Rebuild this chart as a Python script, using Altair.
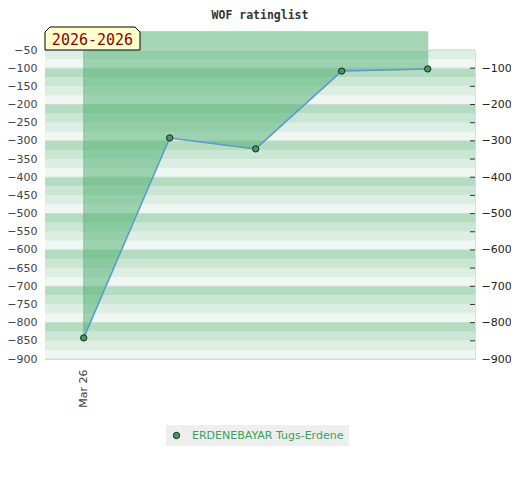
import altair as alt
import pandas as pd

# ---- data ----
dates = ["Mar 26", "", "", "", ""]
idx = [0, 1, 2, 3, 4]
ratings = [-842, -292, -322, -108, -102]
player = "ERDENEBAYAR Tugs-Erdene"
period = "2026-2026"
title_text = "WOF ratinglist"
left_ticks = list(range(-50, -901, -50))
right_ticks = list(range(-100, -901, -100))
minor_ticks = list(range(-100, -851, -50))
Y_DOMAIN = [-900, -50]
X_DOMAIN = [-0.45, 4.55]

df = pd.DataFrame({"i": idx, "label": dates, "rating": ratings, "player": [player] * len(idx)})

shade_colors = ["#b3dcc0", "#c9e7d3", "#ddefe3", "#eff7f2"]
stripe_rows = []
for lo in range(Y_DOMAIN[0], Y_DOMAIN[1], 25):
    hi = lo + 25
    stripe_rows.append({"lo": lo, "hi": hi, "fill": shade_colors[((-hi) % 100) // 25]})
stripes_df = pd.DataFrame(stripe_rows)

W, H = 430, 309
xs = alt.Scale(domain=X_DOMAIN, nice=False, zero=False)
ys = alt.Scale(domain=Y_DOMAIN, nice=False, zero=False)

label_expr = "[" + ",".join("'" + d + "'" for d in dates) + "][datum.value]"
x_axis = alt.Axis(
    values=idx, labelExpr=label_expr, labelAngle=-90, ticks=False, grid=False, title=None,
    labelColor="#444444", labelFontSize=11, labelFont="DejaVu Sans",
    domainColor="#dddddd", labelPadding=10, labelOverlap=False, labelFlush=False)
X = alt.X("i:Q", scale=xs, axis=x_axis)

stripes = alt.Chart(stripes_df).mark_rect().encode(
    x=alt.value(0), x2=alt.value(W),
    y=alt.Y("lo:Q", scale=ys, axis=alt.Axis(
        orient="left", values=left_ticks, ticks=False, grid=False, title=None,
        labelColor="#444444", labelFontSize=11, labelFont="DejaVu Sans",
        domainColor="#dddddd", labelPadding=8)),
    y2="hi:Q",
    fill=alt.Fill("fill:N", scale=None),
)

grid = alt.Chart(pd.DataFrame({"v": right_ticks})).mark_rule(color="#d0d8d3", strokeWidth=1).encode(
    y=alt.Y("v:Q", scale=ys, axis=alt.Axis(
        orient="right", values=right_ticks, ticks=False, grid=False, title=None,
        labelColor="#222222", labelFontSize=11, labelFont="DejaVu Sans",
        domainColor="#dddddd", labelPadding=6)),
    x=alt.value(0), x2=alt.value(W),
)

tickmarks = alt.Chart(pd.DataFrame({"v": minor_ticks})).mark_rule(color="#333333", strokeWidth=1).encode(
    y=alt.Y("v:Q", scale=ys, axis=None),
    x=alt.value(W - 5), x2=alt.value(W),
)

area = alt.Chart(df).mark_area(
    color="#4caf6e", opacity=0.5, stroke="#3aa05a", strokeWidth=1, strokeOpacity=1, clip=False
).encode(
    x=X,
    y=alt.Y("rating:Q", scale=ys, axis=None),
    y2=alt.datum(0),
)

border = alt.Chart(pd.DataFrame({"v": [Y_DOMAIN[1]]})).mark_rule(color="#cccccc", strokeWidth=1).encode(
    y=alt.Y("v:Q", scale=ys, axis=None),
    x=alt.value(0), x2=alt.value(W),
)

line = alt.Chart(df).mark_line(color="#5b9bd5", strokeWidth=1.5).encode(
    x=X,
    y=alt.Y("rating:Q", scale=ys, axis=None),
)

points = alt.Chart(df).mark_point(filled=True, size=40, stroke="#222222", strokeWidth=1, opacity=1).encode(
    x=X,
    y=alt.Y("rating:Q", scale=ys, axis=None),
    color=alt.Color("player:N", scale=alt.Scale(range=["#3aa05a"]), legend=alt.Legend(
        orient="none", legendX=121, legendY=375, title=None,
        fillColor="#eeeeee", padding=5, labelColor="#3aa05a", labelFontSize=11,
        labelFont="DejaVu Sans", labelLimit=400, labelOffset=10,
        symbolType="circle", symbolSize=40,
        symbolStrokeColor="#222222", symbolStrokeWidth=1, symbolFillColor="#3aa05a")),
)

tag_df = pd.DataFrame({"t": [period]})
hw = 47.5
hh = 11.5 / hw
ch = 5 / hw
shape = (f"M -1 {hh} L -1 {-hh + ch} L {-1 + ch} {-hh} L {1 - ch} {-hh} "
         f"L 1 {-hh + ch} L 1 {hh} Z")
tag_box = alt.Chart(tag_df).mark_point(
    shape=shape, filled=True, fill="#ffffcc", stroke="#000000", strokeWidth=1,
    size=(2 * hw) ** 2, opacity=1, clip=False
).encode(x=alt.value(hw), y=alt.value(-11.5))
tag_text = alt.Chart(tag_df).mark_text(
    font="DejaVu Sans Mono", fontSize=15, color="#8b0000", align="center", baseline="middle", clip=False
).encode(x=alt.value(hw), y=alt.value(-10.5), text="t:N")

chart = alt.layer(
    stripes, grid, area, border, tickmarks, line, points, tag_box, tag_text
).resolve_scale(y="independent").properties(
    width=W, height=H,
    title=alt.TitleParams(title_text, font="DejaVu Sans Mono", fontSize=11.5, fontWeight="bold",
                          color="#333333", anchor="middle", frame="group", offset=4),
    autosize=alt.AutoSizeParams(type="none"),
    padding={"left": 37, "top": 42, "right": 36, "bottom": 100},
).configure_view(stroke=None).configure(background="white")

chart.save("out.html", embed_options={"renderer": "svg", "actions": False})
